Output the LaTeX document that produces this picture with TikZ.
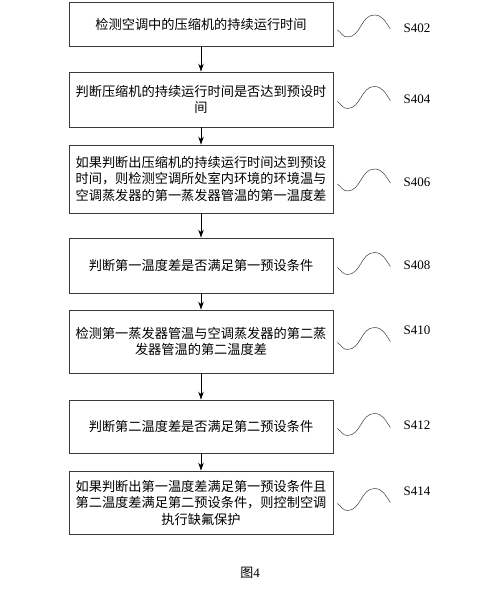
\documentclass[tikz,border=0pt]{standalone}
\usepackage{fontspec}
\setmainfont{Liberation Serif}
\newfontfamily\cjk{Noto Sans CJK SC}
\usetikzlibrary{arrows.meta}
\definecolor{figLine}{HTML}{3A3A3A}

\tikzset{
  stepbox/.style={draw=figLine,line width=0.8pt,minimum width=264pt,align=center,
    inner sep=2pt,font=\cjk\fontsize{13.2}{16.5}\selectfont},
  flow/.style={-{Stealth[length=8pt,width=5.5pt]},line width=0.7pt},
  wavy/.style={line width=0.5pt,figLine},
  steplabel/.style={anchor=west,inner sep=0pt,font=\fontsize{13}{13}\selectfont}
}

\begin{document}
\begin{tikzpicture}[x=1pt,y=1pt]
\useasboundingbox (0,0) rectangle (500,-591);
% Cadena de passos
\node[stepbox,minimum height=44pt] (b1) at (201,-24) {检测空调中的压缩机的持续运行时间};
\node[stepbox,minimum height=55pt] (b2) at (201,-99.5) {判断压缩机的持续运行时间是否达到预设时\\间};
\node[stepbox,minimum height=68pt] (b3) at (201,-179) {如果判断出压缩机的持续运行时间达到预设\\时间，则检测空调所处室内环境的环境温与\\空调蒸发器的第一蒸发器管温的第一温度差};
\node[stepbox,minimum height=55pt] (b4) at (201,-265.5) {判断第一温度差是否满足第一预设条件};
\node[stepbox,minimum height=63pt] (b5) at (201,-341.5) {检测第一蒸发器管温与空调蒸发器的第二蒸\\发器管温的第二温度差};
\node[stepbox,minimum height=53pt] (b6) at (201,-426.5) {判断第二温度差是否满足第二预设条件};
\node[stepbox,minimum height=63pt] (b7) at (201,-502.5) {如果判断出第一温度差满足第一预设条件且\\第二温度差满足第二预设条件，则控制空调\\执行缺氟保护};
% Fletxes
\foreach \a/\b in {b1/b2,b2/b3,b3/b4,b4/b5,b5/b6,b6/b7}
  \draw[flow] (\a.south) -- (\b.north);
% Ones i etiquetes
\foreach \n/\lab/\w/\l in {b1/S402/-4/-4,b2/S404/0/0,b3/S406/-3/-3,b4/S408/0/0,
                           b5/S410/1/11,b6/S412/0/1,b7/S414/1/11}{
  \draw[wavy] ([yshift=\w pt]\n.east) ++(4,-2) to[out=-35,in=180] ++(10,-7)
    to[out=0,in=180] ++(27,22) to[out=0,in=125] ++(16,-14);
  \node[steplabel] (lab-\n) at ([xshift=70pt,yshift=\l pt]\n.east) {\lab};
}
\node[font=\fontsize{13}{13}\selectfont] (cap) at (250,-573) {{\cjk 图}4};
\end{tikzpicture}
\end{document}
